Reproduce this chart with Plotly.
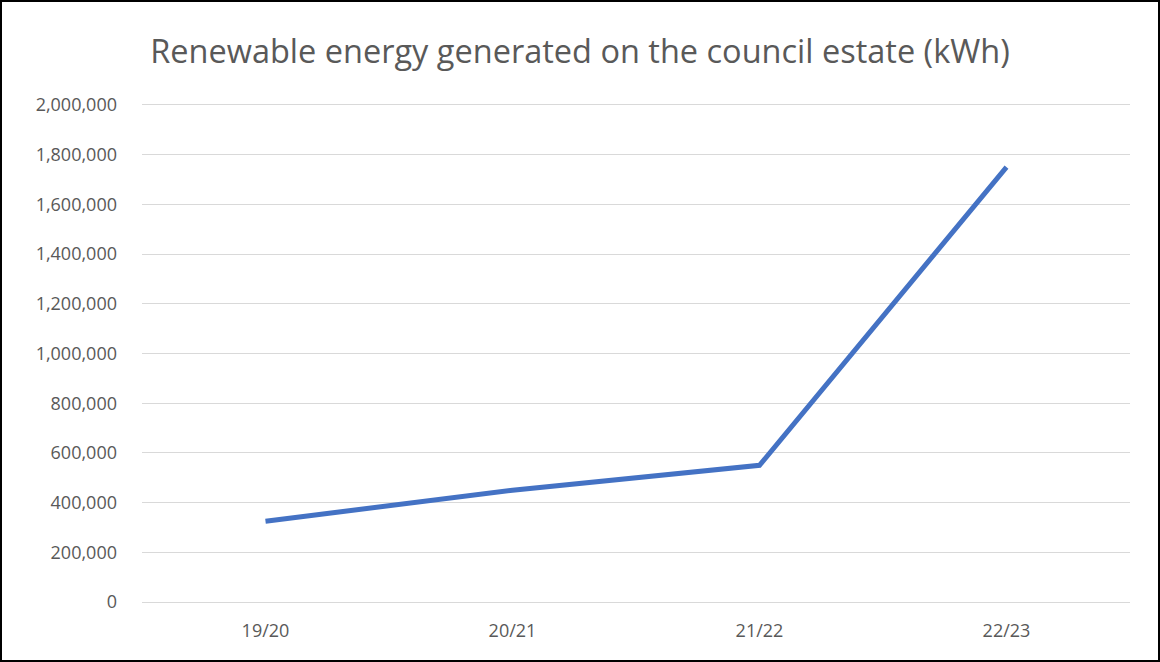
import plotly.graph_objects as go

categories = ["19/20", "20/21", "21/22", "22/23"]
energy_kwh = [325000, 450000, 550000, 1750000]
y_ticks = [0, 200000, 400000, 600000, 800000, 1000000, 1200000, 1400000, 1600000, 1800000, 2000000]
y_tick_labels = ["0", "200,000", "400,000", "600,000", "800,000", "1,000,000", "1,200,000",
                 "1,400,000", "1,600,000", "1,800,000", "2,000,000"]

W, H = 1160, 662
ml, mr, mt, mb = 142, 30, 100, 60
pw, ph = W - ml - mr, H - mt - mb

fig = go.Figure()
fig.add_trace(go.Scatter(
    x=categories, y=energy_kwh, mode="lines",
    line=dict(color="#4472C4", width=5), hoverinfo="x+y", showlegend=False,
))

font_fam = "Open Sans, Noto Sans, sans-serif"
fig.update_layout(
    width=W, height=H,
    margin=dict(l=ml, r=mr, t=mt, b=mb),
    paper_bgcolor="white", plot_bgcolor="white",
    title=dict(text="Renewable energy generated on the council estate (kWh)",
               x=0.5, xanchor="center", y=1 - 52 / H, yanchor="middle",
               font=dict(family=font_fam, size=32.5, color="#595959")),
    xaxis=dict(type="category", range=[-0.5, 3.5], showgrid=False, showline=False,
               ticks="", ticklabelstandoff=16,
               tickfont=dict(family=font_fam, size=18, color="#595959")),
    yaxis=dict(range=[0, 2020000], tickvals=y_ticks, ticktext=y_tick_labels,
               showgrid=True, gridcolor="#D9D9D9", gridwidth=1, zeroline=True,
               zerolinecolor="#D9D9D9", zerolinewidth=1, showline=False, ticks="",
               ticklabelstandoff=24,
               tickfont=dict(family=font_fam, size=18, color="#595959")),
)

fig.add_shape(type="rect", xref="paper", yref="paper",
              x0=(1 - ml) / pw, x1=(W - 1 - ml) / pw,
              y0=-(mb - 1) / ph, y1=(H - 1 - mb) / ph,
              line=dict(color="black", width=2), fillcolor="rgba(0,0,0,0)", layer="above")

fig.write_html("out.html", config={"displayModeBar": False},
               post_script="document.body.style.margin='0px';")
